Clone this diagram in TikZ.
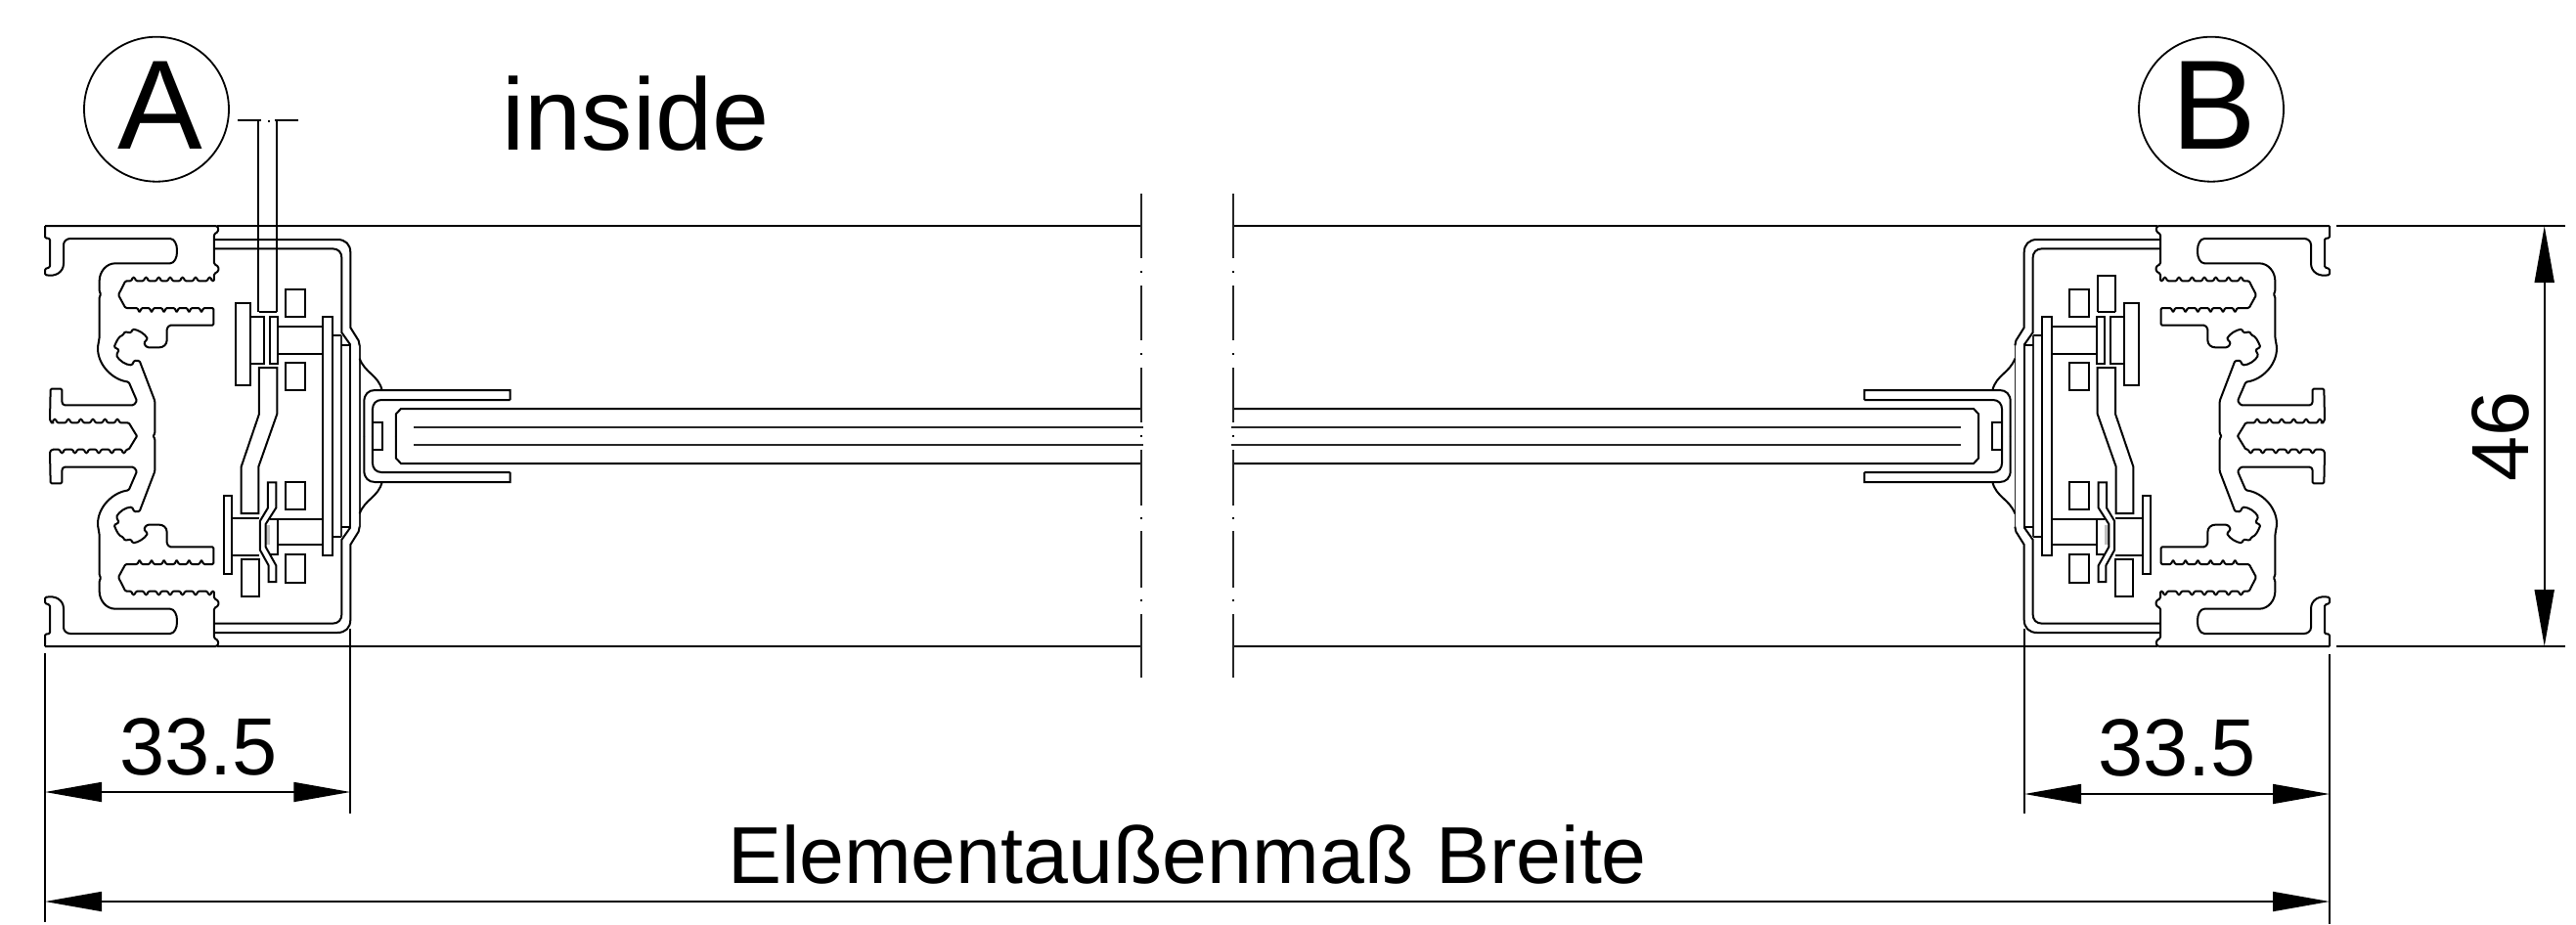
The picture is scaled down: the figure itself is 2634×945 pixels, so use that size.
\documentclass[tikz,border=0pt]{standalone}
\usepackage{fontspec}
\setmainfont{Liberation Sans}
\usetikzlibrary{arrows.meta}
\tikzset{
  prof/.style={line width=2pt,rounded corners=1.2pt,line join=round},
  sharp/.style={line width=2pt,line join=miter},
  thinline/.style={line width=1.7pt,black!85},
  brk/.style={line width=2pt,black!85},
  ext/.style={line width=1.8pt},
  dimline/.style={line width=1.8pt,{Triangle[length=58pt,width=20pt]}-{Triangle[length=58pt,width=20pt]}},
  lab/.style={anchor=base,inner sep=0pt,font=\fontsize{83}{83}\selectfont},
  LT/.style={cm={0.33333,0,0,0.33333,(20pt,-200pt)}},
  RT/.style={cm={-0.33333,0,0,0.33333,(2408pt,-200pt)}},
  LB/.style={cm={0.33333,0,0,-0.33333,(20pt,-692pt)}},
  RB/.style={cm={-0.33333,0,0,-0.33333,(2408pt,-692pt)}},
  LC/.style={cm={0.33333,0,0,0.33333,(20pt,-400pt)}},
  RC/.style={cm={-0.33333,0,0,0.33333,(2408pt,-400pt)}},
}
% one quarter of the section, coordinates in 3x pixels; #1 = teeth of the central finger
\newcommand{\quarterpart}[1]{%
  \draw[prof] (78,93) -- (605,93) -- (610,100) -- (608,112) -- (597,118) -- (597,210) -- (610,218) -- (610,232) -- (597,240) -- (597,262)
    \foreach \t in {583,540,500,462,427,388,350} { -- (\t+7,262) -- (\t+3,251) -- (\t-3,251) -- (\t-7,262) }
    -- (325,262) -- (303,305) -- (325,345)
    \foreach \t in {368,405,443,482,520,558} { -- (\t-6,345) -- (\t-2,356) -- (\t+2,356) -- (\t+6,345) }
    -- (595,345) -- (595,398) -- (460,398) -- (452,408) -- (452,440) .. controls (452,458) and (440,466) .. (425,466) -- (400,466)
    .. controls (388,466) and (381,455) .. (385,447) -- (393,440)
    .. controls (385,425) and (365,412) .. (347,410) -- (342,421) -- (322,418) -- (318,428)
    .. controls (305,432) and (298,445) .. (290,465) -- (305,473) -- (297,490)
    .. controls (305,505) and (325,520) .. (345,520) -- (352,506) -- (368,507) -- (415,630) -- (415,730) -- (410,738);
  \draw[prof] (78,93) -- (78,130) -- (93,132) -- (93,220) -- (78,225) -- (78,243)
    .. controls (110,250) and (135,235) .. (135,205) -- (135,155) .. controls (135,140) and (145,132) .. (160,132)
    -- (458,132) .. controls (475,132) and (483,150) .. (483,170) .. controls (483,190) and (475,208) .. (458,208)
    -- (297,208) .. controls (265,208) and (245,235) .. (245,265) -- (245,295) -- (250,303) -- (245,310) -- (245,435)
    -- (240,465) .. controls (240,520) and (285,565) .. (335,572) -- (360,630) -- (350,643) -- (135,643) -- (130,635) -- (130,593) -- (95,593) -- (93,690) -- (100,697)
    \foreach \t in {#1} { -- (\t-7,697) -- (\t-3,686) -- (\t+3,686) -- (\t+7,697) }
    -- (335,697) -- (360,738);
  \draw[sharp] (605,93) -- (3441,93);
  % sheet metal frame
  \draw[sharp] (597,135) -- (975,135) .. controls (1000,135) and (1015,150) .. (1015,175) -- (1015,405) -- (1040,445) -- (1043,460);
  \draw[sharp] (597,163) -- (960,163) .. controls (978,163) and (988,175) .. (988,190) -- (988,420) -- (1015,458);
  \draw[thinline] (1043,460) -- (1043,738);
  \draw[sharp] (1043,500) .. controls (1060,545) and (1100,550) .. (1112,597);
  % plates
  \draw[sharp] (930,738) -- (930,372) -- (960,372) -- (960,738);
  \draw[sharp] (960,430) -- (988,430);
  \draw[thinline] (988,430) -- (988,738);
  \draw[sharp] (988,458) -- (1015,458) -- (1015,738);
  % glazing channel
  \draw[sharp] (1505,627) -- (1505,597) -- (1090,597) .. controls (1070,597) and (1057,610) .. (1057,632) -- (1057,738);
  \draw[sharp] (1505,627) -- (1110,627) .. controls (1093,627) and (1083,640) .. (1083,655) -- (1083,738);
  \draw[sharp] (1083,695) -- (1113,695) -- (1113,738);
  % glass
  \draw[sharp] (3441,654) -- (1170,654) -- (1155,670) -- (1155,738);
  \draw[thinline] (1210,710) -- (3447,710);
}
% upper clip assembly, coordinates in 3x pixels
\newcommand{\clipupper}{%
  \draw[sharp] (663,330) rectangle (708,583);
  \draw[sharp] (708,372) -- (750,372) -- (750,515) -- (708,515);
  \draw[sharp] (768,372) rectangle (792,515);
  \draw[sharp] (792,402) -- (930,402);
  \draw[sharp] (792,487) -- (930,487);
  \draw[sharp] (817,288) rectangle (877,373);
  \draw[sharp] (817,513) rectangle (877,598);
  \draw[sharp] (735,358) -- (790,358);
  \draw[sharp] (680,975) -- (680,832) -- (735,670) -- (735,528) -- (790,528) -- (790,670) -- (733,832) -- (733,975) -- cycle;
}
\newcommand{\cliplower}{%
  \fill[black!25] (757,410) rectangle (768,470);
  \draw[sharp] (628,320) rectangle (652,562);
  \draw[sharp] (652,390) -- (735,390);
  \draw[sharp] (652,503) -- (735,503);
  \draw[sharp] (680,515) rectangle (735,630);
  \draw[sharp] (762,280) -- (762,358) -- (738,398) -- (738,488) -- (764,535) -- (764,585) -- (787,585) -- (787,535) -- (755,478) -- (755,408) -- (787,358) -- (787,280) -- cycle;
  \draw[sharp] (768,392) -- (792,392) -- (792,502) -- (768,502);
  \draw[sharp] (792,392) -- (930,392);
  \draw[sharp] (792,472) -- (930,472);
  \draw[sharp] (817,278) rectangle (877,362);
  \draw[sharp] (817,500) rectangle (877,587);
}
\newcommand{\breakline}[1]{%
  \draw[brk] (#1,198) -- (#1,264);
  \draw[brk] (#1,292) -- (#1,348);
  \draw[brk] (#1,376) -- (#1,432);
  \draw[brk] (#1,460) -- (#1,517);
  \draw[brk] (#1,543) -- (#1,601);
  \draw[brk] (#1,628) -- (#1,693);
  \foreach \yy in {278,362,446,530,614} { \fill (#1-1,\yy-1) rectangle (#1+1,\yy+1); }
}
\begin{document}
\begin{tikzpicture}[x=1pt,y=-1pt]
\useasboundingbox (0,0) rectangle (2634,945);
\fill[white] (0,0) rectangle (2634,945);

\begin{scope}[LT]\quarterpart{108,150,188,225,262,300}\end{scope}
\begin{scope}[RT]\quarterpart{108,150,188,225,262,300}\end{scope}
\begin{scope}[LB]\quarterpart{130,170,205,243,283,320}\end{scope}
\begin{scope}[RB]\quarterpart{130,170,205,243,283,320}\end{scope}

\begin{scope}[LT]\clipupper\end{scope}
\begin{scope}[RT]\clipupper\draw[sharp] (735,358) -- (735,246) -- (790,246) -- (790,358);\end{scope}
\begin{scope}[LC]\cliplower\end{scope}
\begin{scope}[RC]\cliplower\end{scope}

% protruding stem, left only
\coordinate (stemL) at (264.3,123.3);
\coordinate (stemLb) at (264.3,319.3);
\coordinate (stemR) at (283.3,123.3);
\coordinate (stemRb) at (283.3,319.3);
\draw[sharp] (stemL) -- (stemLb);
\draw[sharp] (stemR) -- (stemRb);
\draw[ext] (243,123.3) -- (267,123.3);
\draw[ext] (281,123.3) -- (305,123.3);
\fill (273.5,122.5) rectangle (275.5,124.5);

\breakline{1167.3}
\breakline{1260.7}

% dimensions
\coordinate (e1a) at (46,668);   \coordinate (e1b) at (46,943);
\coordinate (e2a) at (358.3,643); \coordinate (e2b) at (358.3,832);
\coordinate (e3a) at (2070,643); \coordinate (e3b) at (2070,832);
\coordinate (e4a) at (2382,669); \coordinate (e4b) at (2382,945);
\coordinate (e5a) at (2389,231); \coordinate (e5b) at (2623,231);
\coordinate (e6a) at (2389,661); \coordinate (e6b) at (2623,661);
\draw[ext] (e1a) -- (e1b);
\draw[ext] (e2a) -- (e2b);
\draw[ext] (e3a) -- (e3b);
\draw[ext] (e4a) -- (e4b);
\draw[ext] (e5a) -- (e5b);
\draw[ext] (e6a) -- (e6b);
\coordinate (d1a) at (46,810);   \coordinate (d1b) at (358.3,810);
\coordinate (d2a) at (2070,812); \coordinate (d2b) at (2382,812);
\coordinate (d3a) at (46,922);   \coordinate (d3b) at (2382,922);
\coordinate (d4a) at (2601.7,231); \coordinate (d4b) at (2601.7,661);
\draw[dimline] (d1a) -- (d1b);
\draw[dimline] (d2a) -- (d2b);
\draw[dimline] (d3a) -- (d3b);
\draw[dimline] (d4a) -- (d4b);

\node[lab] (t1) at (203,792) {33.5};
\node[lab] (t2) at (2226,793) {33.5};
\node[lab,font=\fontsize{82.5}{83}\selectfont] (t3) at (1214,903.5) {Elementaußenmaß Breite};
\node[lab,rotate=90] (t4) at (2585,446) {46};
\node[lab,font=\fontsize{104.5}{105}\selectfont] (t5) at (650,153.3) {inside};

\node[draw,circle,line width=1.8pt,minimum size=148pt,inner sep=0pt] (ca) at (160,111.7) {};
\node[draw,circle,line width=1.8pt,minimum size=148pt,inner sep=0pt] (cb) at (2261,111.7) {};
\node[lab,font=\fontsize{130}{130}\selectfont] (ta) at (163.5,152.7) {A};
\node[lab,font=\fontsize{130}{130}\selectfont] (tb) at (2264,152.7) {B};
\end{tikzpicture}
\end{document}
